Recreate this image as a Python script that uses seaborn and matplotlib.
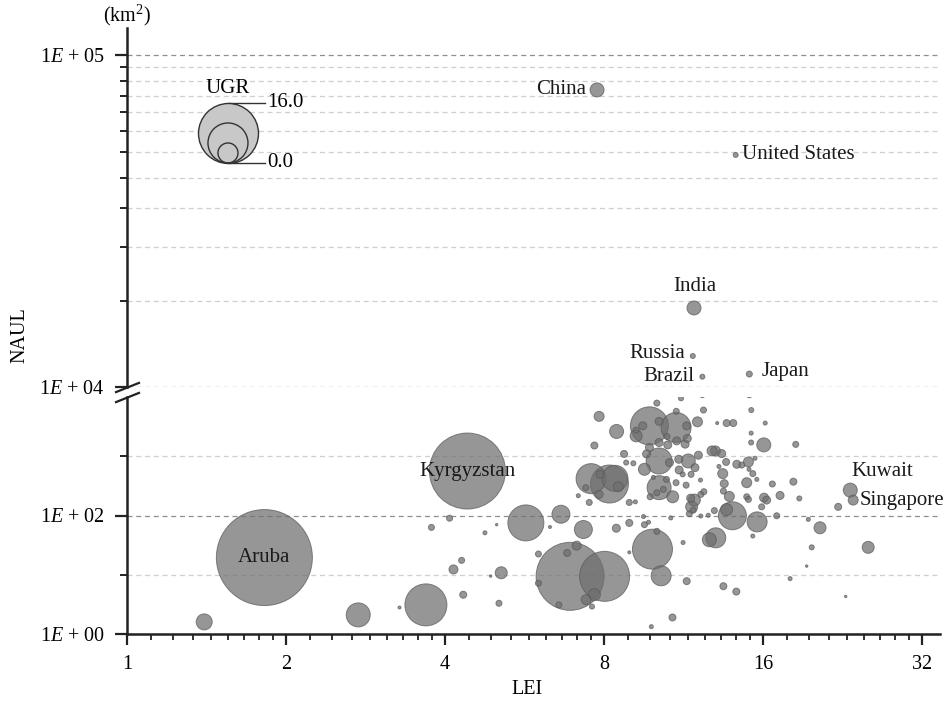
import numpy as np
import pandas as pd
import matplotlib
matplotlib.use('Agg')
from matplotlib import pyplot as plt
from matplotlib import ticker
import seaborn as sns

# labelled countries: LEI, NAUL (km2), UGR
names = ['China', 'United States', 'India', 'Russia', 'Brazil', 'Japan',
         'Kuwait', 'Singapore', 'Aruba', 'Kyrgyzstan']
name_lei = [7.76, 14.2, 11.84, 11.78, 12.28, 15.07, 23.4, 23.7, 1.82, 4.41]
name_naul = [78500, 50000, 17300, 12400, 10740, 10940, 268, 182, 19.5, 563]
name_ugr = [-2.4, -6.0, -2.4, -6.0, -6.0, -5.6, -2.4, -4.0, 30.4, 22.4]

# other countries (not labelled)
other_lei = [1.40, 2.74, 3.68, 4.08, 3.77, 4.76, 5.01, 5.69, 4.30, 4.15,
             5.11, 4.88, 4.33, 5.06, 3.28, 6.01, 6.63, 6.32, 6.90, 8.02,
             6.81, 7.10, 6.01, 6.57, 7.40, 7.67, 7.59, 7.31, 7.56, 8.19,
             8.39, 7.86, 8.51, 7.83, 7.39, 7.15, 7.50, 8.93, 9.17, 8.44,
             8.93, 9.50, 9.54, 9.71, 9.88, 10.07, 10.26, 10.78, 9.83, 8.93,
             11.29, 11.47, 13.46, 14.24, 13.02, 12.66, 14.0, 13.65, 15.59, 16.98,
             15.3, 13.81, 14.9, 15.01, 16.07, 15.9, 17.23, 16.66, 18.26, 18.74,
             19.49, 20.51, 19.78, 19.35, 18.0, 22.94, 25.3, 22.2,
             10.07, 11.19, 7.83, 9.75, 10.95, 8.45, 9.20, 9.47, 10.17, 11.47,
             11.5, 10.96, 12.02, 12.34, 13.1, 13.65, 14.05, 15.2, 16.15, 16.05,
             15.19, 15.19, 18.45, 10.17, 10.56, 10.98, 11.39, 7.67, 9.75, 10.17,
             9.63, 9.54, 8.73, 8.81, 9.09, 10.64, 11.08, 11.55, 11.89, 11.1,
             12.07, 12.81, 13.0, 13.36, 13.62, 13.2, 13.42, 13.51, 13.46, 14.27,
             14.58, 15.01, 15.45, 15.05, 15.3, 15.57, 11.67, 11.86, 11.72, 11.8,
             12.36, 12.2, 12.18, 11.27, 10.95, 11.44, 11.69, 10.79, 10.36, 10.5,
             10.17, 9.92, 10.07, 9.78, 10.52, 9.2, 10.7, 11.6, 12.2, 12.6,
             12.94, 14.9, 16.25]
other_naul = [1.6, 2.1, 3.1, 90, 63, 51, 70, 75, 17.5, 12.3,
              10.8, 9.5, 4.6, 3.3, 2.8, 22.4, 105, 64, 9.4, 9.4,
              23.3, 31, 7.2, 3.1, 3.8, 4.6, 2.9, 58, 419, 340,
              424, 495, 306, 227, 295, 216, 166, 166, 170, 61,
              75, 96, 70, 77, 27, 54, 9.6, 1.9, 1.33, 23.9,
              35, 7.8, 6.4, 5.2, 42, 39, 99, 126, 78, 99,
              45, 210, 358, 187, 200, 140, 218, 340, 372, 194,
              86, 62, 29, 14, 8.6, 4.3, 29, 140,
              7900, 9500, 4710, 3260, 3060, 2620, 2210, 3260, 3870, 3260,
              1995, 5730, 3810, 6020, 3630, 3630, 3630, 6020, 3630, 1555,
              2455, 1706, 1585, 1706, 1555, 1820, 1600, 1518, 1404, 832,
              1095, 602, 1095, 782, 760, 782, 889, 832, 643, 586,
              1040, 1230, 1230, 1110, 801, 672, 509, 345, 258, 732,
              709, 801, 925, 602, 509, 407, 196, 182, 140, 123,
              252, 227, 396, 495, 358, 325, 495, 207, 276, 407,
              295, 440, 242, 207, 2160, 2760, 91, 107, 98, 101,
              121, 207, 182]
other_ugr = [-1.6, 1.6, 8.8, -5.6, -5.6, -6.4, -7.2, 6.4, -5.6, -4.4,
             -3.2, -7.2, -5.2, -5.6, -6.8, -5.6, -0.8, -6.8, 19.2, 12.0,
             -5.2, -4.4, -5.6, -5.6, -4.0, -3.2, -6.0, -0.8, 4.0, 7.2,
             2.4, -4.8, -4.0, -4.8, -5.6, -6.4, -5.6, -5.6, -6.4, -4.8,
             -5.2, -6.4, -5.6, -6.4, 8.0, -5.6, 0.0, -5.2, -6.4, -6.8,
             -6.4, -5.2, -5.2, -5.2, 0.0, -2.4, 3.2, -3.2, 0.0, -5.6,
             -6.4, -4.0, -4.0, -5.6, -4.4, -5.6, -4.8, -5.6, -5.2, -6.0,
             -6.4, -3.2, -6.0, -7.2, -6.4, -7.2, -3.2, -5.2,
             -5.6, -6.0, -4.0, 7.2, 4.0, -2.4, -3.2, -4.8, -4.8, -4.8,
             -4.8, -5.6, -4.0, -5.6, -6.8, -5.2, -5.2, -6.0, -6.4, -2.4,
             -6.4, -6.0, -5.6, -4.8, -4.8, -4.8, -4.8, -5.2, -4.8, 2.4,
             -4.8, -3.2, -5.2, -6.0, -6.0, -4.8, -4.8, -2.4, -4.8, -4.8,
             -4.8, -4.0, -4.0, -4.8, -5.2, -6.4, -4.0, -4.8, -5.6, -4.8,
             -5.6, -4.0, -6.4, -6.4, -5.6, -6.4, -4.8, -3.2, -3.2, -5.6,
             -5.6, -5.6, -6.4, -6.0, -5.6, -5.6, -5.6, -3.2, -5.6, -5.6,
             1.6, -6.4, -5.6, -5.6, -5.6, -5.6, -6.4, -5.6, -6.4, -6.4,
             -5.6, -5.6, -4.8]

# legend values of UGR
legend_ugr = [16.0, 8.0, 0.0]

# label offsets in pixels (dx, dy) and alignment
label_pos = {'China': (-11, 0, 'right'), 'United States': (6, 0, 'left'),
             'India': (1, 21, 'center'), 'Russia': (-8, 2, 'right'),
             'Brazil': (-8, 0, 'right'), 'Japan': (12, 3, 'left'),
             'Kuwait': (1, 19, 'left'), 'Singapore': (6, 0, 'left'),
             'Aruba': (0, 0, 'center'), 'Kyrgyzstan': (0, 0, 'center')}

FS = 15
TFS = 14.5


def ugr_area(u):
    # radius (px) grows linearly with UGR, area in points^2 at 100 dpi
    r = np.clip(10 + 1.25 * np.asarray(u, dtype=float), 1.2, None)
    return (2 * r * 0.72) ** 2


df = pd.DataFrame({
    'name': names + [''] * len(other_lei),
    'lei': name_lei + other_lei,
    'naul': name_naul + other_naul,
    'ugr': name_ugr + other_ugr,
})
df['area'] = ugr_area(df['ugr'])
df = df.sort_values('area', ascending=False).reset_index(drop=True)

plt.rcParams['font.family'] = ['Liberation Serif', 'DejaVu Serif']
plt.rcParams['mathtext.fontset'] = 'custom'
plt.rcParams['mathtext.rm'] = 'Liberation Serif'
plt.rcParams['mathtext.it'] = 'Liberation Serif:italic'

W, H = 945, 711
fig = plt.figure(figsize=(W / 100, H / 100), dpi=100)
ax_lo = fig.add_axes([127 / W, (H - 634) / H, 813 / W, 237 / H])
ax_up = fig.add_axes([127 / W, (H - 387) / H, 813 / W, 359 / H])

for ax in (ax_lo, ax_up):
    sns.scatterplot(data=df, x='lei', y='naul', s=df['area'].to_numpy(),
                    color='#6e6e6e', alpha=0.72, edgecolor='#5a5a5a',
                    linewidth=0.7, legend=False, ax=ax, zorder=3)
    ax.set_xscale('log', base=2)
    ax.set_yscale('log')
    ax.set_xlim(1, 34.6)
    ax.set_xlabel('')
    ax.set_ylabel('')
    ax.set_axisbelow(True)
    for s in ['top', 'right']:
        ax.spines[s].set_visible(False)
    for s in ['left', 'bottom']:
        ax.spines[s].set_linewidth(1.8)
        ax.spines[s].set_color('#222222')
    ax.grid(False)
    ax.yaxis.grid(True, which='major', ls=(0, (4, 3)), color='#8f8f8f', lw=0.9)
    ax.yaxis.grid(True, which='minor', ls=(0, (4, 3)), color='#cfcfcf', lw=0.9)
    ax.tick_params(axis='y', which='major', length=9, width=1.6,
                   color='#222222', labelsize=TFS, pad=7)
    ax.tick_params(axis='y', which='minor', length=5, width=1.4,
                   color='#222222')

fmt_e = ticker.FuncFormatter(
    lambda v, p: '1$E$ + %02d' % int(round(np.log10(v))))

# lower panel
ax_lo.set_ylim(1, 1e4)
ax_lo.yaxis.set_major_locator(ticker.FixedLocator([1, 100]))
ax_lo.yaxis.set_minor_locator(ticker.FixedLocator([10, 1000]))
ax_lo.yaxis.set_major_formatter(fmt_e)
ax_lo.yaxis.set_minor_formatter(ticker.NullFormatter())
ax_lo.xaxis.set_major_locator(ticker.FixedLocator([1, 2, 4, 8, 16, 32]))
x_minor = [b * (1 + k / 9) for b in [1, 2, 4, 8, 16] for k in range(1, 9)]
ax_lo.xaxis.set_minor_locator(ticker.FixedLocator(x_minor))
ax_lo.xaxis.set_major_formatter(ticker.FuncFormatter(lambda v, p: '%d' % v))
ax_lo.xaxis.set_minor_formatter(ticker.NullFormatter())
ax_lo.tick_params(axis='x', which='major', length=8, width=1.6,
                  color='#222222', labelsize=TFS, pad=7)
ax_lo.tick_params(axis='x', which='minor', length=4.5, width=1.3,
                  color='#222222')

# upper panel
ax_up.set_ylim(1e4, 1.206e5)
ax_up.yaxis.set_major_locator(ticker.FixedLocator([1e4, 1e5]))
y_minor = [1e4 * (1 + k * 9 / 11) for k in range(1, 11)]
ax_up.yaxis.set_minor_locator(ticker.FixedLocator(y_minor))
ax_up.yaxis.set_major_formatter(fmt_e)
ax_up.yaxis.set_minor_formatter(ticker.NullFormatter())
ax_up.spines['bottom'].set_visible(False)
ax_up.xaxis.set_visible(False)

# break marks
for ax, yb in ((ax_up, 0), (ax_lo, 1)):
    ax.plot([0], [yb], transform=ax.transAxes, marker=[(-1, -0.4), (1, 0.4)],
            ms=18, mew=1.6, color='#222222', ls='none', clip_on=False)

# country labels
for _, row in df[df['name'] != ''].iterrows():
    ax = ax_up if row['naul'] >= 1e4 else ax_lo
    dx, dy, ha = label_pos[row['name']]
    ax.annotate(row['name'], (row['lei'], row['naul']), xytext=(dx, dy),
                textcoords='offset pixels', ha=ha, va='center',
                fontsize=FS, color='#1a1a1a', zorder=5)

# UGR size legend
ph = 359.0
lx, lb = 0.1242, 0.624
for i, u in enumerate(legend_ugr):
    r = 10 + 1.25 * u
    ax_up.scatter([lx], [lb + r / ph], s=ugr_area(u), transform=ax_up.transAxes,
                  facecolor='#c8c8c8' if i == 0 else 'none',
                  edgecolor='#333333', linewidth=1.0, zorder=4, clip_on=False)
r_top = 10 + 1.25 * legend_ugr[0]
y_top = lb + 2 * r_top / ph
ax_up.plot([lx, 0.1697], [y_top, y_top], transform=ax_up.transAxes,
           color='#333333', lw=1.0)
ax_up.plot([lx, 0.1697], [lb, lb], transform=ax_up.transAxes,
           color='#333333', lw=1.0)
ax_up.text(0.172, y_top, '%.1f' % legend_ugr[0], transform=ax_up.transAxes,
           ha='left', va='center', fontsize=FS)
ax_up.text(0.172, lb, '%.1f' % legend_ugr[-1], transform=ax_up.transAxes,
           ha='left', va='center', fontsize=FS)
ax_up.text(lx, y_top + 14 / ph, 'UGR', transform=ax_up.transAxes,
           ha='center', va='center', fontsize=FS)

# axis titles
ax_up.text(0, 1 + 13 / ph, '(km$^2$)', transform=ax_up.transAxes,
           ha='center', va='center', fontsize=FS - 0.5)
fig.text(20 / W, 1 - 335 / H, 'NAUL', rotation=90, ha='center', va='center',
         fontsize=FS - 0.5)
fig.text(527 / W, 1 - 690 / H, 'LEI', ha='center', va='center',
         fontsize=FS - 0.5)

fig.savefig('out.png', dpi=100)
